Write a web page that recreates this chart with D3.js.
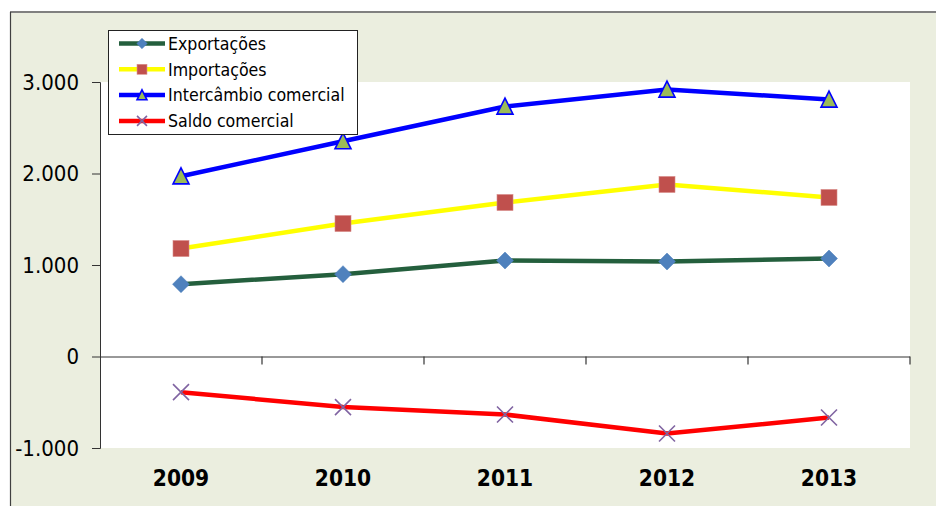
<!DOCTYPE html>
<html><head><meta charset="utf-8">
<script src="https://cdn.jsdelivr.net/npm/d3@7"></script>
<style>
html,body{margin:0;padding:0;background:#fff;}
svg{display:block;}
text{font-family:"DejaVu Sans Condensed","DejaVu Sans",sans-serif;font-stretch:condensed;}
</style></head>
<body>
<script>
const years = ["2009","2010","2011","2012","2013"];
const exportacoes = [790, 900, 1049, 1038, 1071];
const importacoes = [1180, 1453, 1683, 1880, 1738];
const intercambio = [1970, 2353, 2732, 2918, 2809];
const saldo = [-390, -553, -634, -842, -667];
const yTicks = [-1000, 0, 1000, 2000, 3000];
const seriesNames = ["Exportações","Importações","Intercâmbio comercial","Saldo comercial"];

const W = 936, H = 506;
const svg = d3.select("body").append("svg").attr("width", W).attr("height", H);

// outer background
svg.append("rect").attr("x",10).attr("y",12).attr("width",W-10).attr("height",H-12).attr("fill","#EBEEDF");
svg.append("line").attr("x1",10).attr("x2",W).attr("y1",12).attr("y2",12).attr("stroke","#808080").attr("stroke-width",2);
svg.append("line").attr("x1",10.5).attr("x2",10.5).attr("y1",12).attr("y2",H).attr("stroke","#404040").attr("stroke-width",1.2);

const plot = {left:100, right:910, top:82, bottom:448};
svg.append("rect").attr("x",plot.left).attr("y",plot.top).attr("width",plot.right-plot.left).attr("height",plot.bottom-plot.top).attr("fill","#fff");

const x = d3.scaleBand().domain(years).range([plot.left, plot.right]);
const y = d3.scaleLinear().domain([-1000, 3000]).range([plot.bottom, plot.top]);
const fmt = d => d3.format(",")(d).replace(/,/g, ".").replace("\u2212", "-");

// y axis
const yAxis = d3.axisLeft(y).tickValues(yTicks).tickSize(8).tickPadding(13).tickFormat(fmt);
const gy = svg.append("g").attr("transform",`translate(${plot.left},0)`).call(yAxis);
gy.select(".domain").attr("stroke","#333").attr("stroke-width",1);
gy.selectAll(".tick line").attr("stroke","#333");
gy.selectAll(".tick text").attr("font-size",22).attr("fill","#000").style("font-family",'"DejaVu Sans Condensed","DejaVu Sans",sans-serif');

// x axis at zero
const xAxis = d3.axisBottom(x).tickSize(0).tickFormat("");
const gx = svg.append("g").attr("transform",`translate(0,${y(0)})`).call(xAxis);
gx.select(".domain").remove();
svg.append("line").attr("x1",plot.left).attr("x2",plot.right).attr("y1",y(0)+0.5).attr("y2",y(0)+0.5).attr("stroke","#333").attr("stroke-width",1);
const bounds = years.map(d => x(d) + x.bandwidth());
svg.selectAll(".xtick").data(bounds).enter().append("line")
  .attr("x1",d=>d).attr("x2",d=>d).attr("y1",y(0)).attr("y2",y(0)+8).attr("stroke","#333").attr("stroke-width",1.2);

// year labels
svg.selectAll(".year").data(years).enter().append("text")
  .attr("x",d=>x(d)+x.bandwidth()/2).attr("y",486).attr("text-anchor","middle")
  .attr("font-size",22.5).attr("font-weight","bold").attr("fill","#000").text(d=>d);

const cx = d => x(d) + x.bandwidth()/2;
const line = d3.line().x((d,i)=>cx(years[i])).y(d=>y(d));

const series = [
  {name:seriesNames[0], values:exportacoes, color:"#245F3D", w:4.5, marker:"diamond"},
  {name:seriesNames[1], values:importacoes, color:"#FFFF00", w:4.5, marker:"square"},
  {name:seriesNames[2], values:intercambio, color:"#0000FF", w:4.5, marker:"triangle"},
  {name:seriesNames[3], values:saldo, color:"#FF0000", w:4.5, marker:"x"}
];

function drawMarker(g, type, px, py, scale) {
  const s = scale || 1;
  if (type === "diamond") {
    const r = 8.5*s;
    g.append("path").attr("d",`M${px},${py-r}L${px+r},${py}L${px},${py+r}L${px-r},${py}Z`).attr("fill","#4F81BD").attr("stroke","#4A7DBA").attr("stroke-width",0.5);
  } else if (type === "square") {
    const r = 8*s;
    g.append("rect").attr("x",px-r).attr("y",py-r).attr("width",2*r).attr("height",2*r).attr("fill","#C0504D").attr("stroke","#D88A88").attr("stroke-width",0.6);
  } else if (type === "triangle") {
    const r = 8*s;
    g.append("path").attr("d",`M${px},${py-r*1.05}L${px+r},${py+r*0.95}L${px-r},${py+r*0.95}Z`).attr("fill","#9BBB59").attr("stroke","#0000FF").attr("stroke-width",1.6);
  } else if (type === "x") {
    const r = 8*s;
    g.append("path").attr("d",`M${px-r},${py-r}L${px+r},${py+r}M${px-r},${py+r}L${px+r},${py-r}`).attr("stroke","#8064A2").attr("stroke-width",1.6).attr("fill","none");
  }
}

series.forEach(s => {
  svg.append("path").datum(s.values).attr("d",line).attr("fill","none").attr("stroke",s.color).attr("stroke-width",s.w).attr("stroke-linejoin","round");
});
series.forEach(s => {
  const g = svg.append("g");
  s.values.forEach((v,i) => drawMarker(g, s.marker, cx(years[i]), y(v), 1));
});

// legend
const lg = svg.append("g");
lg.append("rect").attr("x",108.5).attr("y",30.5).attr("width",249).attr("height",104).attr("fill","#fff").attr("stroke","#222").attr("stroke-width",1);
series.forEach((s,i) => {
  const ly = 43.5 + i*25.8;
  lg.append("line").attr("x1",119).attr("x2",165).attr("y1",ly).attr("y2",ly).attr("stroke",s.color).attr("stroke-width",4.5);
  drawMarker(lg, s.marker, 142, ly, 0.62);
  lg.append("text").attr("x",168).attr("y",ly).attr("dy","0.36em").attr("font-size",17.6).attr("fill","#000").text(s.name);
});
</script>
</body></html>
